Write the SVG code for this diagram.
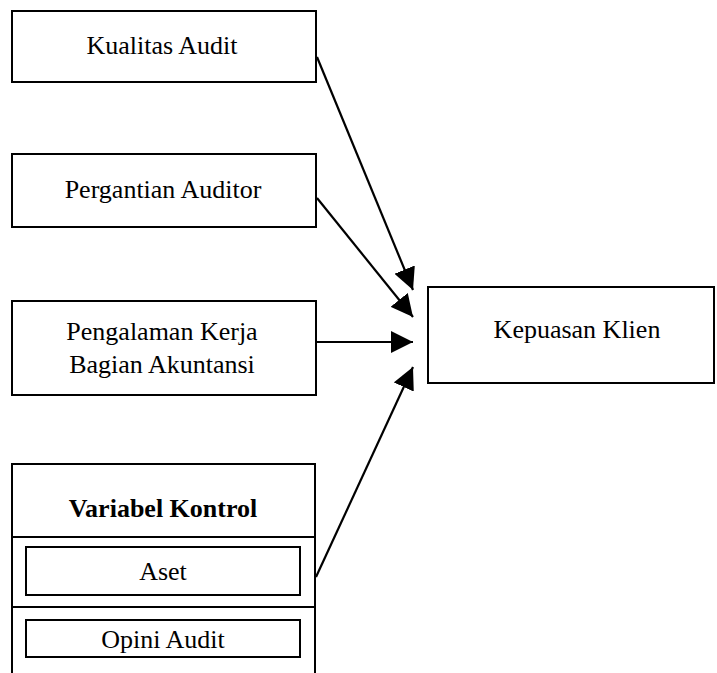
<svg xmlns="http://www.w3.org/2000/svg" width="717" height="673" viewBox="0 0 717 673">
<style>
.box{fill:#fff;stroke:#000;stroke-width:2}
.ln{fill:none;stroke:#000;stroke-width:2}
.t{font-family:"Liberation Serif","Times New Roman",serif;font-size:26px;fill:#000;text-anchor:middle}
.b{font-weight:bold}
.c{stroke:#000;stroke-width:2.2;fill:none;marker-end:url(#ah)}
</style>
<defs>
<marker id="ah" markerUnits="userSpaceOnUse" markerWidth="24" markerHeight="22" refX="22" refY="11" orient="auto" viewBox="0 0 24 22">
<path d="M0,0 L22,11 L0,22 Z" fill="#000"/>
</marker>
</defs>
<rect width="717" height="673" fill="#fff"/>
<g id="kualitas">
<rect class="box" x="12" y="11" width="304" height="71"/>
<text class="t" x="162" y="54">Kualitas Audit</text>
</g>
<g id="pergantian">
<rect class="box" x="12" y="154" width="304" height="73"/>
<text class="t" x="163" y="198">Pergantian Auditor</text>
</g>
<g id="pengalaman">
<rect class="box" x="12" y="301" width="304" height="94"/>
<text class="t" x="162" y="340">Pengalaman Kerja</text>
<text class="t" x="162" y="373">Bagian Akuntansi</text>
</g>
<g id="kepuasan">
<rect class="box" x="428" y="287" width="286" height="96"/>
<text class="t" x="577" y="338">Kepuasan Klien</text>
</g>
<g id="kontrol">
<path class="ln" d="M12,673 V464 H315 V673"/>
<line class="ln" x1="12" y1="537" x2="315" y2="537"/>
<line class="ln" x1="12" y1="607" x2="315" y2="607"/>
<text class="t b" x="163" y="517">Variabel Kontrol</text>
</g>
<g id="aset">
<rect class="box" x="26" y="547" width="274" height="48"/>
<text class="t" x="163" y="580">Aset</text>
</g>
<g id="opini">
<rect class="box" x="26" y="620" width="274" height="37"/>
<text class="t" x="163" y="648">Opini Audit</text>
</g>
<g id="connectors">
<line class="c" x1="317" y1="57" x2="413" y2="290"/>
<line class="c" x1="317" y1="198" x2="413" y2="317"/>
<line class="c" x1="316" y1="342" x2="413" y2="342"/>
<line class="c" x1="316" y1="577" x2="413" y2="367"/>
</g>
</svg>
